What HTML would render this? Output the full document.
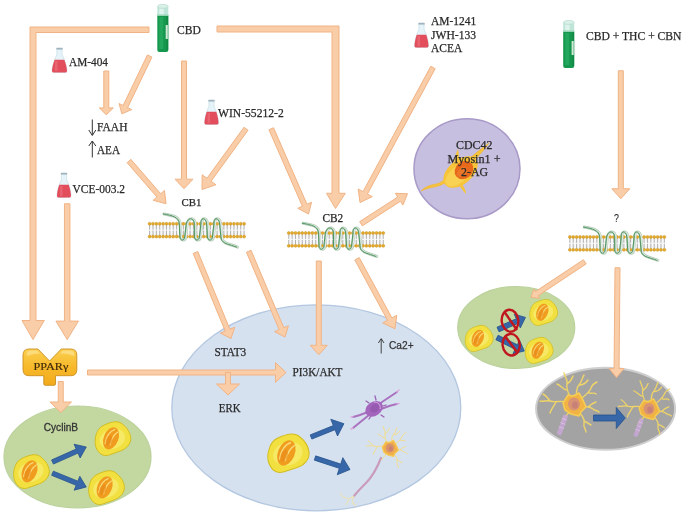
<!DOCTYPE html>
<html><head><meta charset="utf-8"><style>html,body{margin:0;padding:0;background:#fff;width:686px;height:516px;overflow:hidden}svg{display:block;will-change:transform}</style></head>
<body><svg width="686" height="516" viewBox="0 0 686 516"><rect width="686" height="516" fill="#fff"/>
<defs><linearGradient id="pg" x1="0" y1="0" x2="0" y2="1"><stop offset="0" stop-color="#fbcf50"/><stop offset="0.5" stop-color="#f7b92a"/><stop offset="1" stop-color="#f2aa1c"/></linearGradient></defs>
<ellipse cx="316.3" cy="407.8" rx="144.5" ry="103" fill="#d6e1f0" stroke="#b3c7e0" stroke-width="1.3"/>
<ellipse cx="77.5" cy="457" rx="73.5" ry="51" fill="#c3d7a1" stroke="#bcd29c" stroke-width="1.2"/>
<ellipse cx="516.25" cy="327.5" rx="58.5" ry="41" fill="#c3d7a1" stroke="#bcd29c" stroke-width="1.2"/>
<ellipse cx="605.6" cy="408.75" rx="69.5" ry="41" fill="#a3a3a3" stroke="#cfcfcf" stroke-width="2"/>
<ellipse cx="467" cy="168.75" rx="53" ry="50" fill="#c7bfdf" stroke="#a89ac8" stroke-width="1.5"/>
<g>
<path d="M449 180 C444 184 440 186 434 187 C429 188 425 189 421 191 C426 186 431 185 436 184 C441 183 444 180 447 176 Z" fill="#f6c43c" stroke="#f0b020" stroke-width="0.5"/>
<path d="M462 184 C464 187 466 190 466 194 C463 191 461 188 459 185 Z" fill="#f6c43c"/>
<path d="M470 158 C476 153 482 148 489 143 C485 149 480 154 474 161 Z" fill="#f6c43c" stroke="#f0b020" stroke-width="0.5"/>
<path d="M454 161 C455 157 456 153 458 149 C459 153 459 157 459 160 Z" fill="#f6c43c"/>
<ellipse cx="460.5" cy="172" rx="20" ry="12" fill="#f7c43a" transform="rotate(-40 460.5 172)"/>
<ellipse cx="458" cy="175" rx="15" ry="8" fill="#f9d860" opacity="0.7" transform="rotate(-40 458 175)"/>
<ellipse cx="464" cy="170" rx="10" ry="8.5" fill="#e8691c" transform="rotate(-40 464 170)"/>
<ellipse cx="462" cy="172" rx="6" ry="4" fill="#ee8030" opacity="0.6" transform="rotate(-40 462 172)"/>
</g>
<polygon points="149.00,27.00 30.00,27.00 30.00,320.50 22.00,320.50 33.00,339.60 44.30,320.50 36.00,320.50 36.00,32.50 149.00,32.50" fill="#F9CDA8" stroke="#F1B384" stroke-width="1"/>
<polygon points="217.00,26.00 339.00,26.00 339.00,193.30 345.30,193.30 335.50,208.50 326.50,193.30 332.00,193.30 332.00,32.00 217.00,32.00" fill="#F9CDA8" stroke="#F1B384" stroke-width="1"/>
<polygon points="103.80,71.00 103.80,107.90 99.30,107.90 106.30,114.90 113.30,107.90 108.80,107.90 108.80,71.00" fill="#F9CDA8" stroke="#F1B384" stroke-width="1" stroke-linejoin="miter"/>
<polygon points="147.45,54.92 123.11,105.51 119.06,103.56 121.90,113.80 131.68,109.62 127.62,107.67 151.95,57.08" fill="#F9CDA8" stroke="#F1B384" stroke-width="1" stroke-linejoin="miter"/>
<polygon points="181.50,61.00 181.50,179.20 175.00,179.20 184.00,188.70 193.00,179.20 186.50,179.20 186.50,61.00" fill="#F9CDA8" stroke="#F1B384" stroke-width="1" stroke-linejoin="miter"/>
<polygon points="127.11,162.64 156.91,197.02 153.13,200.30 166.00,203.70 164.46,190.48 160.69,193.75 130.89,159.36" fill="#F9CDA8" stroke="#F1B384" stroke-width="1" stroke-linejoin="miter"/>
<polygon points="243.98,127.28 207.01,178.31 202.15,174.80 202.00,189.50 215.92,184.77 211.06,181.25 248.02,130.22" fill="#F9CDA8" stroke="#F1B384" stroke-width="1" stroke-linejoin="miter"/>
<polygon points="268.96,129.75 302.41,206.30 297.82,208.30 308.50,214.00 311.57,202.29 306.99,204.29 273.54,127.75" fill="#F9CDA8" stroke="#F1B384" stroke-width="1" stroke-linejoin="miter"/>
<polygon points="430.80,66.31 363.03,191.63 358.20,189.02 360.00,202.50 372.27,196.63 367.43,194.01 435.20,68.69" fill="#F9CDA8" stroke="#F1B384" stroke-width="1" stroke-linejoin="miter"/>
<polygon points="362.36,225.85 400.45,201.27 402.89,205.05 407.50,193.75 395.30,193.29 397.74,197.07 359.64,221.65" fill="#F9CDA8" stroke="#F1B384" stroke-width="1" stroke-linejoin="miter"/>
<polygon points="618.30,70.75 618.30,188.75 611.80,188.75 620.80,198.75 629.80,188.75 623.30,188.75 623.30,70.75" fill="#F9CDA8" stroke="#F1B384" stroke-width="1" stroke-linejoin="miter"/>
<polygon points="64.45,203.75 64.45,321.10 55.95,321.10 67.20,339.60 78.45,321.10 69.95,321.10 69.95,203.75" fill="#F9CDA8" stroke="#F1B384" stroke-width="1" stroke-linejoin="miter"/>
<polygon points="58.25,381.50 58.25,402.00 50.00,402.00 60.75,412.50 71.50,402.00 63.25,402.00 63.25,381.50" fill="#F9CDA8" stroke="#F1B384" stroke-width="1" stroke-linejoin="miter"/>
<polygon points="87.50,375.00 275.50,375.00 275.50,382.25 286.00,372.50 275.50,362.75 275.50,370.00 87.50,370.00" fill="#F9CDA8" stroke="#F1B384" stroke-width="1" stroke-linejoin="miter"/>
<polygon points="225.50,372.50 225.50,384.00 216.50,384.00 228.00,395.00 239.50,384.00 230.50,384.00 230.50,372.50" fill="#F9CDA8" stroke="#F1B384" stroke-width="1" stroke-linejoin="miter"/>
<polygon points="193.19,253.45 225.26,331.13 220.40,333.14 231.00,338.50 234.73,327.22 229.88,329.23 197.81,251.55" fill="#F9CDA8" stroke="#F1B384" stroke-width="1" stroke-linejoin="miter"/>
<polygon points="246.45,252.22 279.19,329.68 274.59,331.63 285.00,337.00 288.40,325.79 283.80,327.74 251.05,250.28" fill="#F9CDA8" stroke="#F1B384" stroke-width="1" stroke-linejoin="miter"/>
<polygon points="316.30,261.00 316.30,345.30 310.30,345.30 318.80,354.80 327.30,345.30 321.30,345.30 321.30,261.00" fill="#F9CDA8" stroke="#F1B384" stroke-width="1" stroke-linejoin="miter"/>
<polygon points="354.80,259.94 387.55,320.28 382.72,322.90 395.00,328.75 396.78,315.27 391.95,317.89 359.20,257.56" fill="#F9CDA8" stroke="#F1B384" stroke-width="1" stroke-linejoin="miter"/>
<polygon points="583.42,259.72 535.45,291.55 533.79,289.05 531.00,297.50 539.87,298.21 538.21,295.71 586.18,263.88" fill="#F9CDA8" stroke="#F1B384" stroke-width="1" stroke-linejoin="miter"/>
<polygon points="615.00,267.78 614.08,368.48 609.08,368.43 616.50,377.50 624.08,368.57 619.08,368.52 620.00,267.82" fill="#F9CDA8" stroke="#F1B384" stroke-width="1" stroke-linejoin="miter"/>
<g>
<rect x="149.60" y="224.50" width="94.50" height="11" fill="#f8f8f8"/>
<path d="M149.60 225.00V229.60M149.60 230.60V235.20M152.97 225.00V229.60M152.97 230.60V235.20M156.35 225.00V229.60M156.35 230.60V235.20M159.72 225.00V229.60M159.72 230.60V235.20M163.10 225.00V229.60M163.10 230.60V235.20M166.47 225.00V229.60M166.47 230.60V235.20M169.85 225.00V229.60M169.85 230.60V235.20M173.22 225.00V229.60M173.22 230.60V235.20M176.60 225.00V229.60M176.60 230.60V235.20M179.97 225.00V229.60M179.97 230.60V235.20M183.35 225.00V229.60M183.35 230.60V235.20M186.72 225.00V229.60M186.72 230.60V235.20M190.10 225.00V229.60M190.10 230.60V235.20M193.47 225.00V229.60M193.47 230.60V235.20M196.85 225.00V229.60M196.85 230.60V235.20M200.22 225.00V229.60M200.22 230.60V235.20M203.60 225.00V229.60M203.60 230.60V235.20M206.97 225.00V229.60M206.97 230.60V235.20M210.35 225.00V229.60M210.35 230.60V235.20M213.72 225.00V229.60M213.72 230.60V235.20M217.10 225.00V229.60M217.10 230.60V235.20M220.47 225.00V229.60M220.47 230.60V235.20M223.85 225.00V229.60M223.85 230.60V235.20M227.22 225.00V229.60M227.22 230.60V235.20M230.60 225.00V229.60M230.60 230.60V235.20M233.97 225.00V229.60M233.97 230.60V235.20M237.35 225.00V229.60M237.35 230.60V235.20M240.72 225.00V229.60M240.72 230.60V235.20M244.10 225.00V229.60M244.10 230.60V235.20" stroke="#a8a8a8" stroke-width="0.9"/>
<g fill="#e6aa28" stroke="#c08a18" stroke-width="0.4"><circle cx="149.60" cy="223.70" r="1.5"/><circle cx="149.60" cy="236.60" r="1.5"/><circle cx="152.97" cy="223.70" r="1.5"/><circle cx="152.97" cy="236.60" r="1.5"/><circle cx="156.35" cy="223.70" r="1.5"/><circle cx="156.35" cy="236.60" r="1.5"/><circle cx="159.72" cy="223.70" r="1.5"/><circle cx="159.72" cy="236.60" r="1.5"/><circle cx="163.10" cy="223.70" r="1.5"/><circle cx="163.10" cy="236.60" r="1.5"/><circle cx="166.47" cy="223.70" r="1.5"/><circle cx="166.47" cy="236.60" r="1.5"/><circle cx="169.85" cy="223.70" r="1.5"/><circle cx="169.85" cy="236.60" r="1.5"/><circle cx="173.22" cy="223.70" r="1.5"/><circle cx="173.22" cy="236.60" r="1.5"/><circle cx="176.60" cy="223.70" r="1.5"/><circle cx="176.60" cy="236.60" r="1.5"/><circle cx="179.97" cy="223.70" r="1.5"/><circle cx="179.97" cy="236.60" r="1.5"/><circle cx="183.35" cy="223.70" r="1.5"/><circle cx="183.35" cy="236.60" r="1.5"/><circle cx="186.72" cy="223.70" r="1.5"/><circle cx="186.72" cy="236.60" r="1.5"/><circle cx="190.10" cy="223.70" r="1.5"/><circle cx="190.10" cy="236.60" r="1.5"/><circle cx="193.47" cy="223.70" r="1.5"/><circle cx="193.47" cy="236.60" r="1.5"/><circle cx="196.85" cy="223.70" r="1.5"/><circle cx="196.85" cy="236.60" r="1.5"/><circle cx="200.22" cy="223.70" r="1.5"/><circle cx="200.22" cy="236.60" r="1.5"/><circle cx="203.60" cy="223.70" r="1.5"/><circle cx="203.60" cy="236.60" r="1.5"/><circle cx="206.97" cy="223.70" r="1.5"/><circle cx="206.97" cy="236.60" r="1.5"/><circle cx="210.35" cy="223.70" r="1.5"/><circle cx="210.35" cy="236.60" r="1.5"/><circle cx="213.72" cy="223.70" r="1.5"/><circle cx="213.72" cy="236.60" r="1.5"/><circle cx="217.10" cy="223.70" r="1.5"/><circle cx="217.10" cy="236.60" r="1.5"/><circle cx="220.47" cy="223.70" r="1.5"/><circle cx="220.47" cy="236.60" r="1.5"/><circle cx="223.85" cy="223.70" r="1.5"/><circle cx="223.85" cy="236.60" r="1.5"/><circle cx="227.22" cy="223.70" r="1.5"/><circle cx="227.22" cy="236.60" r="1.5"/><circle cx="230.60" cy="223.70" r="1.5"/><circle cx="230.60" cy="236.60" r="1.5"/><circle cx="233.97" cy="223.70" r="1.5"/><circle cx="233.97" cy="236.60" r="1.5"/><circle cx="237.35" cy="223.70" r="1.5"/><circle cx="237.35" cy="236.60" r="1.5"/><circle cx="240.72" cy="223.70" r="1.5"/><circle cx="240.72" cy="236.60" r="1.5"/><circle cx="244.10" cy="223.70" r="1.5"/><circle cx="244.10" cy="236.60" r="1.5"/></g>
<path d="M164.1 213.9 C173.6 215.5 179.6 217.0 180.2 224.0 L180.8 237.0 C181.1 241.0 185.1 241.0 185.6 237.0 L187.1 224.0 C188.7 217.0 194.7 217.0 195.2 224.0 L195.3 237.0 C195.8 241.0 199.8 241.0 200.3 237.0 L201.8 224.0 C201.0 217.0 207.0 217.0 207.5 224.0 L208.3 237.0 C208.8 241.0 212.8 241.0 213.3 237.0 L214.8 224.0 C214.0 217.0 220.0 217.0 220.5 224.0 L222.0 239.0 C224.0 244.0 229.6 244.0 237.6 247.1" fill="none" stroke="#b2cab6" stroke-width="3" stroke-linecap="round" opacity="0.95"/>
<path d="M164.1 213.9 C173.6 215.5 179.6 217.0 180.2 224.0 L180.8 237.0 C181.1 241.0 185.1 241.0 185.6 237.0 L187.1 224.0 C188.7 217.0 194.7 217.0 195.2 224.0 L195.3 237.0 C195.8 241.0 199.8 241.0 200.3 237.0 L201.8 224.0 C201.0 217.0 207.0 217.0 207.5 224.0 L208.3 237.0 C208.8 241.0 212.8 241.0 213.3 237.0 L214.8 224.0 C214.0 217.0 220.0 217.0 220.5 224.0 L222.0 239.0 C224.0 244.0 229.6 244.0 237.6 247.1" fill="none" stroke="#e4eee6" stroke-width="1" stroke-linecap="round" transform="translate(0.6,0)"/>
<path d="M164.1 213.9 C173.6 215.5 179.6 217.0 180.2 224.0 L180.8 237.0 C181.1 241.0 185.1 241.0 185.6 237.0 L187.1 224.0 C188.7 217.0 194.7 217.0 195.2 224.0 L195.3 237.0 C195.8 241.0 199.8 241.0 200.3 237.0 L201.8 224.0 C201.0 217.0 207.0 217.0 207.5 224.0 L208.3 237.0 C208.8 241.0 212.8 241.0 213.3 237.0 L214.8 224.0 C214.0 217.0 220.0 217.0 220.5 224.0 L222.0 239.0 C224.0 244.0 229.6 244.0 237.6 247.1" fill="none" stroke="#4f9660" stroke-width="1" stroke-linecap="round" transform="translate(-0.9,0)"/>
</g>
<g>
<rect x="288.75" y="233.75" width="94.50" height="11" fill="#f8f8f8"/>
<path d="M288.75 234.25V238.85M288.75 239.85V244.45M292.12 234.25V238.85M292.12 239.85V244.45M295.50 234.25V238.85M295.50 239.85V244.45M298.88 234.25V238.85M298.88 239.85V244.45M302.25 234.25V238.85M302.25 239.85V244.45M305.62 234.25V238.85M305.62 239.85V244.45M309.00 234.25V238.85M309.00 239.85V244.45M312.38 234.25V238.85M312.38 239.85V244.45M315.75 234.25V238.85M315.75 239.85V244.45M319.12 234.25V238.85M319.12 239.85V244.45M322.50 234.25V238.85M322.50 239.85V244.45M325.88 234.25V238.85M325.88 239.85V244.45M329.25 234.25V238.85M329.25 239.85V244.45M332.62 234.25V238.85M332.62 239.85V244.45M336.00 234.25V238.85M336.00 239.85V244.45M339.38 234.25V238.85M339.38 239.85V244.45M342.75 234.25V238.85M342.75 239.85V244.45M346.12 234.25V238.85M346.12 239.85V244.45M349.50 234.25V238.85M349.50 239.85V244.45M352.88 234.25V238.85M352.88 239.85V244.45M356.25 234.25V238.85M356.25 239.85V244.45M359.62 234.25V238.85M359.62 239.85V244.45M363.00 234.25V238.85M363.00 239.85V244.45M366.38 234.25V238.85M366.38 239.85V244.45M369.75 234.25V238.85M369.75 239.85V244.45M373.12 234.25V238.85M373.12 239.85V244.45M376.50 234.25V238.85M376.50 239.85V244.45M379.88 234.25V238.85M379.88 239.85V244.45M383.25 234.25V238.85M383.25 239.85V244.45" stroke="#a8a8a8" stroke-width="0.9"/>
<g fill="#e6aa28" stroke="#c08a18" stroke-width="0.4"><circle cx="288.75" cy="232.95" r="1.5"/><circle cx="288.75" cy="245.85" r="1.5"/><circle cx="292.12" cy="232.95" r="1.5"/><circle cx="292.12" cy="245.85" r="1.5"/><circle cx="295.50" cy="232.95" r="1.5"/><circle cx="295.50" cy="245.85" r="1.5"/><circle cx="298.88" cy="232.95" r="1.5"/><circle cx="298.88" cy="245.85" r="1.5"/><circle cx="302.25" cy="232.95" r="1.5"/><circle cx="302.25" cy="245.85" r="1.5"/><circle cx="305.62" cy="232.95" r="1.5"/><circle cx="305.62" cy="245.85" r="1.5"/><circle cx="309.00" cy="232.95" r="1.5"/><circle cx="309.00" cy="245.85" r="1.5"/><circle cx="312.38" cy="232.95" r="1.5"/><circle cx="312.38" cy="245.85" r="1.5"/><circle cx="315.75" cy="232.95" r="1.5"/><circle cx="315.75" cy="245.85" r="1.5"/><circle cx="319.12" cy="232.95" r="1.5"/><circle cx="319.12" cy="245.85" r="1.5"/><circle cx="322.50" cy="232.95" r="1.5"/><circle cx="322.50" cy="245.85" r="1.5"/><circle cx="325.88" cy="232.95" r="1.5"/><circle cx="325.88" cy="245.85" r="1.5"/><circle cx="329.25" cy="232.95" r="1.5"/><circle cx="329.25" cy="245.85" r="1.5"/><circle cx="332.62" cy="232.95" r="1.5"/><circle cx="332.62" cy="245.85" r="1.5"/><circle cx="336.00" cy="232.95" r="1.5"/><circle cx="336.00" cy="245.85" r="1.5"/><circle cx="339.38" cy="232.95" r="1.5"/><circle cx="339.38" cy="245.85" r="1.5"/><circle cx="342.75" cy="232.95" r="1.5"/><circle cx="342.75" cy="245.85" r="1.5"/><circle cx="346.12" cy="232.95" r="1.5"/><circle cx="346.12" cy="245.85" r="1.5"/><circle cx="349.50" cy="232.95" r="1.5"/><circle cx="349.50" cy="245.85" r="1.5"/><circle cx="352.88" cy="232.95" r="1.5"/><circle cx="352.88" cy="245.85" r="1.5"/><circle cx="356.25" cy="232.95" r="1.5"/><circle cx="356.25" cy="245.85" r="1.5"/><circle cx="359.62" cy="232.95" r="1.5"/><circle cx="359.62" cy="245.85" r="1.5"/><circle cx="363.00" cy="232.95" r="1.5"/><circle cx="363.00" cy="245.85" r="1.5"/><circle cx="366.38" cy="232.95" r="1.5"/><circle cx="366.38" cy="245.85" r="1.5"/><circle cx="369.75" cy="232.95" r="1.5"/><circle cx="369.75" cy="245.85" r="1.5"/><circle cx="373.12" cy="232.95" r="1.5"/><circle cx="373.12" cy="245.85" r="1.5"/><circle cx="376.50" cy="232.95" r="1.5"/><circle cx="376.50" cy="245.85" r="1.5"/><circle cx="379.88" cy="232.95" r="1.5"/><circle cx="379.88" cy="245.85" r="1.5"/><circle cx="383.25" cy="232.95" r="1.5"/><circle cx="383.25" cy="245.85" r="1.5"/></g>
<path d="M303.2 223.2 C312.8 224.8 318.8 226.2 319.4 233.2 L319.9 246.2 C320.2 250.2 324.2 250.2 324.8 246.2 L326.2 233.2 C327.9 226.2 333.9 226.2 334.4 233.2 L334.4 246.2 C334.9 250.2 338.9 250.2 339.4 246.2 L340.9 233.2 C340.1 226.2 346.1 226.2 346.6 233.2 L347.4 246.2 C347.9 250.2 351.9 250.2 352.4 246.2 L353.9 233.2 C353.1 226.2 359.1 226.2 359.6 233.2 L361.1 248.2 C363.1 253.2 368.8 253.2 376.8 256.4" fill="none" stroke="#b2cab6" stroke-width="3" stroke-linecap="round" opacity="0.95"/>
<path d="M303.2 223.2 C312.8 224.8 318.8 226.2 319.4 233.2 L319.9 246.2 C320.2 250.2 324.2 250.2 324.8 246.2 L326.2 233.2 C327.9 226.2 333.9 226.2 334.4 233.2 L334.4 246.2 C334.9 250.2 338.9 250.2 339.4 246.2 L340.9 233.2 C340.1 226.2 346.1 226.2 346.6 233.2 L347.4 246.2 C347.9 250.2 351.9 250.2 352.4 246.2 L353.9 233.2 C353.1 226.2 359.1 226.2 359.6 233.2 L361.1 248.2 C363.1 253.2 368.8 253.2 376.8 256.4" fill="none" stroke="#e4eee6" stroke-width="1" stroke-linecap="round" transform="translate(0.6,0)"/>
<path d="M303.2 223.2 C312.8 224.8 318.8 226.2 319.4 233.2 L319.9 246.2 C320.2 250.2 324.2 250.2 324.8 246.2 L326.2 233.2 C327.9 226.2 333.9 226.2 334.4 233.2 L334.4 246.2 C334.9 250.2 338.9 250.2 339.4 246.2 L340.9 233.2 C340.1 226.2 346.1 226.2 346.6 233.2 L347.4 246.2 C347.9 250.2 351.9 250.2 352.4 246.2 L353.9 233.2 C353.1 226.2 359.1 226.2 359.6 233.2 L361.1 248.2 C363.1 253.2 368.8 253.2 376.8 256.4" fill="none" stroke="#4f9660" stroke-width="1" stroke-linecap="round" transform="translate(-0.9,0)"/>
</g>
<g>
<rect x="569.85" y="237.70" width="94.50" height="11" fill="#f8f8f8"/>
<path d="M569.85 238.20V242.80M569.85 243.80V248.40M573.23 238.20V242.80M573.23 243.80V248.40M576.60 238.20V242.80M576.60 243.80V248.40M579.98 238.20V242.80M579.98 243.80V248.40M583.35 238.20V242.80M583.35 243.80V248.40M586.73 238.20V242.80M586.73 243.80V248.40M590.10 238.20V242.80M590.10 243.80V248.40M593.48 238.20V242.80M593.48 243.80V248.40M596.85 238.20V242.80M596.85 243.80V248.40M600.23 238.20V242.80M600.23 243.80V248.40M603.60 238.20V242.80M603.60 243.80V248.40M606.98 238.20V242.80M606.98 243.80V248.40M610.35 238.20V242.80M610.35 243.80V248.40M613.73 238.20V242.80M613.73 243.80V248.40M617.10 238.20V242.80M617.10 243.80V248.40M620.48 238.20V242.80M620.48 243.80V248.40M623.85 238.20V242.80M623.85 243.80V248.40M627.23 238.20V242.80M627.23 243.80V248.40M630.60 238.20V242.80M630.60 243.80V248.40M633.98 238.20V242.80M633.98 243.80V248.40M637.35 238.20V242.80M637.35 243.80V248.40M640.73 238.20V242.80M640.73 243.80V248.40M644.10 238.20V242.80M644.10 243.80V248.40M647.48 238.20V242.80M647.48 243.80V248.40M650.85 238.20V242.80M650.85 243.80V248.40M654.23 238.20V242.80M654.23 243.80V248.40M657.60 238.20V242.80M657.60 243.80V248.40M660.98 238.20V242.80M660.98 243.80V248.40M664.35 238.20V242.80M664.35 243.80V248.40" stroke="#a8a8a8" stroke-width="0.9"/>
<g fill="#e6aa28" stroke="#c08a18" stroke-width="0.4"><circle cx="569.85" cy="236.90" r="1.5"/><circle cx="569.85" cy="249.80" r="1.5"/><circle cx="573.23" cy="236.90" r="1.5"/><circle cx="573.23" cy="249.80" r="1.5"/><circle cx="576.60" cy="236.90" r="1.5"/><circle cx="576.60" cy="249.80" r="1.5"/><circle cx="579.98" cy="236.90" r="1.5"/><circle cx="579.98" cy="249.80" r="1.5"/><circle cx="583.35" cy="236.90" r="1.5"/><circle cx="583.35" cy="249.80" r="1.5"/><circle cx="586.73" cy="236.90" r="1.5"/><circle cx="586.73" cy="249.80" r="1.5"/><circle cx="590.10" cy="236.90" r="1.5"/><circle cx="590.10" cy="249.80" r="1.5"/><circle cx="593.48" cy="236.90" r="1.5"/><circle cx="593.48" cy="249.80" r="1.5"/><circle cx="596.85" cy="236.90" r="1.5"/><circle cx="596.85" cy="249.80" r="1.5"/><circle cx="600.23" cy="236.90" r="1.5"/><circle cx="600.23" cy="249.80" r="1.5"/><circle cx="603.60" cy="236.90" r="1.5"/><circle cx="603.60" cy="249.80" r="1.5"/><circle cx="606.98" cy="236.90" r="1.5"/><circle cx="606.98" cy="249.80" r="1.5"/><circle cx="610.35" cy="236.90" r="1.5"/><circle cx="610.35" cy="249.80" r="1.5"/><circle cx="613.73" cy="236.90" r="1.5"/><circle cx="613.73" cy="249.80" r="1.5"/><circle cx="617.10" cy="236.90" r="1.5"/><circle cx="617.10" cy="249.80" r="1.5"/><circle cx="620.48" cy="236.90" r="1.5"/><circle cx="620.48" cy="249.80" r="1.5"/><circle cx="623.85" cy="236.90" r="1.5"/><circle cx="623.85" cy="249.80" r="1.5"/><circle cx="627.23" cy="236.90" r="1.5"/><circle cx="627.23" cy="249.80" r="1.5"/><circle cx="630.60" cy="236.90" r="1.5"/><circle cx="630.60" cy="249.80" r="1.5"/><circle cx="633.98" cy="236.90" r="1.5"/><circle cx="633.98" cy="249.80" r="1.5"/><circle cx="637.35" cy="236.90" r="1.5"/><circle cx="637.35" cy="249.80" r="1.5"/><circle cx="640.73" cy="236.90" r="1.5"/><circle cx="640.73" cy="249.80" r="1.5"/><circle cx="644.10" cy="236.90" r="1.5"/><circle cx="644.10" cy="249.80" r="1.5"/><circle cx="647.48" cy="236.90" r="1.5"/><circle cx="647.48" cy="249.80" r="1.5"/><circle cx="650.85" cy="236.90" r="1.5"/><circle cx="650.85" cy="249.80" r="1.5"/><circle cx="654.23" cy="236.90" r="1.5"/><circle cx="654.23" cy="249.80" r="1.5"/><circle cx="657.60" cy="236.90" r="1.5"/><circle cx="657.60" cy="249.80" r="1.5"/><circle cx="660.98" cy="236.90" r="1.5"/><circle cx="660.98" cy="249.80" r="1.5"/><circle cx="664.35" cy="236.90" r="1.5"/><circle cx="664.35" cy="249.80" r="1.5"/></g>
<path d="M584.4 227.1 C593.9 228.7 599.9 230.2 600.5 237.2 L601.1 250.2 C601.4 254.2 605.4 254.2 605.9 250.2 L607.4 237.2 C609.0 230.2 615.0 230.2 615.5 237.2 L615.6 250.2 C616.1 254.2 620.1 254.2 620.6 250.2 L622.1 237.2 C621.2 230.2 627.2 230.2 627.8 237.2 L628.6 250.2 C629.1 254.2 633.1 254.2 633.6 250.2 L635.1 237.2 C634.2 230.2 640.2 230.2 640.8 237.2 L642.2 252.2 C644.2 257.2 649.9 257.2 657.9 260.3" fill="none" stroke="#b2cab6" stroke-width="3" stroke-linecap="round" opacity="0.95"/>
<path d="M584.4 227.1 C593.9 228.7 599.9 230.2 600.5 237.2 L601.1 250.2 C601.4 254.2 605.4 254.2 605.9 250.2 L607.4 237.2 C609.0 230.2 615.0 230.2 615.5 237.2 L615.6 250.2 C616.1 254.2 620.1 254.2 620.6 250.2 L622.1 237.2 C621.2 230.2 627.2 230.2 627.8 237.2 L628.6 250.2 C629.1 254.2 633.1 254.2 633.6 250.2 L635.1 237.2 C634.2 230.2 640.2 230.2 640.8 237.2 L642.2 252.2 C644.2 257.2 649.9 257.2 657.9 260.3" fill="none" stroke="#e4eee6" stroke-width="1" stroke-linecap="round" transform="translate(0.6,0)"/>
<path d="M584.4 227.1 C593.9 228.7 599.9 230.2 600.5 237.2 L601.1 250.2 C601.4 254.2 605.4 254.2 605.9 250.2 L607.4 237.2 C609.0 230.2 615.0 230.2 615.5 237.2 L615.6 250.2 C616.1 254.2 620.1 254.2 620.6 250.2 L622.1 237.2 C621.2 230.2 627.2 230.2 627.8 237.2 L628.6 250.2 C629.1 254.2 633.1 254.2 633.6 250.2 L635.1 237.2 C634.2 230.2 640.2 230.2 640.8 237.2 L642.2 252.2 C644.2 257.2 649.9 257.2 657.9 260.3" fill="none" stroke="#4f9660" stroke-width="1" stroke-linecap="round" transform="translate(-0.9,0)"/>
</g>
<g>
<path d="M157.30 15.00 V50.00 Q157.30 52.00 159.30 52.00 H166.30 Q168.30 52.00 168.30 50.00 V15.00 Z" fill="#16974e"/>
<rect x="159.30" y="17.00" width="4.00" height="32.00" fill="#2aae62" opacity="0.7"/>
<rect x="166.50" y="16.00" width="1.80" height="34.00" fill="#0f7f3e" opacity="0.6"/>
<rect x="165.70" y="25.00" width="2.10" height="14.00" fill="#cfe9d6"/>
<rect x="157.30" y="6.00" width="11.00" height="10.00" fill="#bfe5d8"/>
<rect x="159.30" y="8.00" width="4.50" height="7.00" fill="#e6f6f0" opacity="0.8"/>
<ellipse cx="162.80" cy="6.40" rx="5.30" ry="2" fill="#daf1e8" stroke="#a8d4c4" stroke-width="0.6"/>
<rect x="157.30" y="14.50" width="11.00" height="1.4" fill="#8fd2b0"/>
</g>
<g>
<path d="M563.20 31.00 V66.00 Q563.20 68.00 565.20 68.00 H572.20 Q574.20 68.00 574.20 66.00 V31.00 Z" fill="#16974e"/>
<rect x="565.20" y="33.00" width="4.00" height="32.00" fill="#2aae62" opacity="0.7"/>
<rect x="572.40" y="32.00" width="1.80" height="34.00" fill="#0f7f3e" opacity="0.6"/>
<rect x="571.60" y="41.00" width="2.10" height="14.00" fill="#cfe9d6"/>
<rect x="563.20" y="22.00" width="11.00" height="10.00" fill="#bfe5d8"/>
<rect x="565.20" y="24.00" width="4.50" height="7.00" fill="#e6f6f0" opacity="0.8"/>
<ellipse cx="568.70" cy="22.40" rx="5.30" ry="2" fill="#daf1e8" stroke="#a8d4c4" stroke-width="0.6"/>
<rect x="563.20" y="30.50" width="11.00" height="1.4" fill="#8fd2b0"/>
</g>
<path d="M56.90 49.00 L56.90 54.50 C53.90 60.50 52.00 67.50 52.00 71.00 Q52.00 72.50 54.00 72.50 L65.00 72.50 Q67.00 72.50 67.00 71.00 C67.00 67.50 65.10 60.50 62.10 54.50 L62.10 49.00 Z" fill="#e6f4fa" stroke="#c0d8e0" stroke-width="0.6"/>
<clipPath id="fc567"><rect x="51.00" y="59.80" width="17.00" height="25.00"/></clipPath>
<path d="M56.90 49.00 L56.90 54.50 C53.90 60.50 52.00 67.50 52.00 71.00 Q52.00 72.50 54.00 72.50 L65.00 72.50 Q67.00 72.50 67.00 71.00 C67.00 67.50 65.10 60.50 62.10 54.50 L62.10 49.00 Z" fill="#e34e5c" clip-path="url(#fc567)"/>
<rect x="55.00" y="61.00" width="2.50" height="10.00" fill="#ee7a84" opacity="0.5"/>
<rect x="56.30" y="47.80" width="6.40" height="1.8" rx="0.5" fill="#9fb4be"/>
<path d="M208.90 101.00 L208.90 106.50 C205.90 112.50 204.50 119.50 204.50 123.00 Q204.50 124.50 206.50 124.50 L216.50 124.50 Q218.50 124.50 218.50 123.00 C218.50 119.50 217.10 112.50 214.10 106.50 L214.10 101.00 Z" fill="#e6f4fa" stroke="#c0d8e0" stroke-width="0.6"/>
<clipPath id="fc2144"><rect x="203.50" y="111.80" width="16.00" height="25.00"/></clipPath>
<path d="M208.90 101.00 L208.90 106.50 C205.90 112.50 204.50 119.50 204.50 123.00 Q204.50 124.50 206.50 124.50 L216.50 124.50 Q218.50 124.50 218.50 123.00 C218.50 119.50 217.10 112.50 214.10 106.50 L214.10 101.00 Z" fill="#e34e5c" clip-path="url(#fc2144)"/>
<rect x="207.50" y="113.00" width="2.50" height="10.00" fill="#ee7a84" opacity="0.5"/>
<rect x="208.30" y="99.80" width="6.40" height="1.8" rx="0.5" fill="#9fb4be"/>
<path d="M418.90 24.00 L418.90 29.50 C415.90 35.50 414.50 42.50 414.50 46.00 Q414.50 47.50 416.50 47.50 L426.50 47.50 Q428.50 47.50 428.50 46.00 C428.50 42.50 427.10 35.50 424.10 29.50 L424.10 24.00 Z" fill="#e6f4fa" stroke="#c0d8e0" stroke-width="0.6"/>
<clipPath id="fc4167"><rect x="413.50" y="34.80" width="16.00" height="25.00"/></clipPath>
<path d="M418.90 24.00 L418.90 29.50 C415.90 35.50 414.50 42.50 414.50 46.00 Q414.50 47.50 416.50 47.50 L426.50 47.50 Q428.50 47.50 428.50 46.00 C428.50 42.50 427.10 35.50 424.10 29.50 L424.10 24.00 Z" fill="#e34e5c" clip-path="url(#fc4167)"/>
<rect x="417.50" y="36.00" width="2.50" height="10.00" fill="#ee7a84" opacity="0.5"/>
<rect x="418.30" y="22.80" width="6.40" height="1.8" rx="0.5" fill="#9fb4be"/>
<path d="M61.40 174.00 L61.40 179.50 C58.40 185.50 57.00 192.50 57.00 196.00 Q57.00 197.50 59.00 197.50 L69.00 197.50 Q71.00 197.50 71.00 196.00 C71.00 192.50 69.60 185.50 66.60 179.50 L66.60 174.00 Z" fill="#e6f4fa" stroke="#c0d8e0" stroke-width="0.6"/>
<clipPath id="fc742"><rect x="56.00" y="184.80" width="16.00" height="25.00"/></clipPath>
<path d="M61.40 174.00 L61.40 179.50 C58.40 185.50 57.00 192.50 57.00 196.00 Q57.00 197.50 59.00 197.50 L69.00 197.50 Q71.00 197.50 71.00 196.00 C71.00 192.50 69.60 185.50 66.60 179.50 L66.60 174.00 Z" fill="#e34e5c" clip-path="url(#fc742)"/>
<rect x="60.00" y="186.00" width="2.50" height="10.00" fill="#ee7a84" opacity="0.5"/>
<rect x="60.80" y="172.80" width="6.40" height="1.8" rx="0.5" fill="#9fb4be"/>
<text x="177" y="34" font-family='"Liberation Serif", serif' font-size="12" fill="#2a2a2a" font-weight="normal" textLength="23.75" lengthAdjust="spacingAndGlyphs" stroke="#2a2a2a" stroke-width="0.25">CBD</text>
<text x="69" y="65.5" font-family='"Liberation Serif", serif' font-size="12.5" fill="#2a2a2a" font-weight="normal" textLength="39" lengthAdjust="spacingAndGlyphs" stroke="#2a2a2a" stroke-width="0.25">AM-404</text>
<text x="218" y="117" font-family='"Liberation Serif", serif' font-size="12.5" fill="#2a2a2a" font-weight="normal" textLength="65.75" lengthAdjust="spacingAndGlyphs" stroke="#2a2a2a" stroke-width="0.25">WIN-55212-2</text>
<text x="431" y="25.3" font-family='"Liberation Serif", serif' font-size="12.5" fill="#2a2a2a" font-weight="normal" textLength="45.3" lengthAdjust="spacingAndGlyphs" stroke="#2a2a2a" stroke-width="0.25">AM-1241</text>
<text x="431" y="38.9" font-family='"Liberation Serif", serif' font-size="12.5" fill="#2a2a2a" font-weight="normal" textLength="45" lengthAdjust="spacingAndGlyphs" stroke="#2a2a2a" stroke-width="0.25">JWH-133</text>
<text x="431" y="52.3" font-family='"Liberation Serif", serif' font-size="12.5" fill="#2a2a2a" font-weight="normal" textLength="31.2" lengthAdjust="spacingAndGlyphs" stroke="#2a2a2a" stroke-width="0.25">ACEA</text>
<text x="586" y="40" font-family='"Liberation Serif", serif' font-size="12" fill="#2a2a2a" font-weight="normal" textLength="95.5" lengthAdjust="spacingAndGlyphs" stroke="#2a2a2a" stroke-width="0.25">CBD + THC + CBN</text>
<text x="97" y="130.75" font-family='"Liberation Serif", serif' font-size="12.5" fill="#2a2a2a" font-weight="normal" textLength="30.5" lengthAdjust="spacingAndGlyphs" stroke="#2a2a2a" stroke-width="0.25">FAAH</text>
<text x="97" y="154.25" font-family='"Liberation Serif", serif' font-size="12.5" fill="#2a2a2a" font-weight="normal" textLength="23" lengthAdjust="spacingAndGlyphs" stroke="#2a2a2a" stroke-width="0.25">AEA</text>
<text x="72.5" y="192.5" font-family='"Liberation Serif", serif' font-size="12.5" fill="#2a2a2a" font-weight="normal" textLength="52.5" lengthAdjust="spacingAndGlyphs" stroke="#2a2a2a" stroke-width="0.25">VCE-003.2</text>
<text x="181.6" y="206.4" font-family='"Liberation Serif", serif' font-size="11" fill="#2a2a2a" font-weight="normal" textLength="19.9" lengthAdjust="spacingAndGlyphs" stroke="#2a2a2a" stroke-width="0.25">CB1</text>
<text x="322.5" y="221.75" font-family='"Liberation Serif", serif' font-size="11.5" fill="#2a2a2a" font-weight="normal" textLength="20.75" lengthAdjust="spacingAndGlyphs" stroke="#2a2a2a" stroke-width="0.25">CB2</text>
<text x="456" y="148.75" font-family='"Liberation Serif", serif' font-size="12" fill="#2a2a2a" font-weight="normal" textLength="36.5" lengthAdjust="spacingAndGlyphs" stroke="#2a2a2a" stroke-width="0.25">CDC42</text>
<text x="447.5" y="162.5" font-family='"Liberation Serif", serif' font-size="12" fill="#2a2a2a" font-weight="normal" textLength="53" lengthAdjust="spacingAndGlyphs" stroke="#2a2a2a" stroke-width="0.25">Myosin1 +</text>
<text x="461" y="175.5" font-family='"Liberation Serif", serif' font-size="12" fill="#2a2a2a" font-weight="normal" textLength="27" lengthAdjust="spacingAndGlyphs" stroke="#2a2a2a" stroke-width="0.25">2-AG</text>
<text x="614" y="221.75" font-family='"Liberation Sans", sans-serif' font-size="11" fill="#2a2a2a" font-weight="normal" textLength="4.9" lengthAdjust="spacingAndGlyphs" stroke="#2a2a2a" stroke-width="0.1">?</text>
<text x="214.5" y="355.5" font-family='"Liberation Serif", serif' font-size="11.5" fill="#2a2a2a" font-weight="normal" textLength="31.75" lengthAdjust="spacingAndGlyphs" stroke="#2a2a2a" stroke-width="0.25">STAT3</text>
<text x="292.6" y="376.35" font-family='"Liberation Serif", serif' font-size="11.5" fill="#2a2a2a" font-weight="normal" textLength="49.85" lengthAdjust="spacingAndGlyphs" stroke="#2a2a2a" stroke-width="0.25">PI3K/AKT</text>
<text x="218.75" y="411.75" font-family='"Liberation Serif", serif' font-size="11.5" fill="#2a2a2a" font-weight="normal" textLength="21.75" lengthAdjust="spacingAndGlyphs" stroke="#2a2a2a" stroke-width="0.25">ERK</text>
<text x="389" y="348.7" font-family='"Liberation Sans", sans-serif' font-size="10.8" fill="#333" font-weight="normal" textLength="24.6" lengthAdjust="spacingAndGlyphs" stroke="#333" stroke-width="0.25">Ca2+</text>
<path d="M92.3 119.5 V135 M88.8 130 L92.3 135.5 L95.8 130" stroke="#333" stroke-width="1" fill="none"/>
<path d="M92.3 141 V157.5 M88.8 146 L92.3 141 L95.8 146" stroke="#333" stroke-width="1" fill="none"/>
<path d="M381.2 339 V353.5 M378.4 343 L381.2 338.6 L384 343" stroke="#333" stroke-width="0.9" fill="none"/>
<path d="M29 349 L37.9 349 L49.6 361 L61.3 349 L70.8 349 Q76.8 349 76.8 355 L76.8 369.7 Q76.8 375.7 70.8 375.7 L55.5 375.7 L55.5 384 Q55.5 385.3 54 385.3 L45.3 385.3 Q43.8 385.3 43.8 384 L43.8 375.7 L29 375.7 Q23 375.7 23 369.7 L23 355 Q23 349 29 349 Z" fill="url(#pg)" stroke="#c99020" stroke-width="0.9"/>
<path d="M27 352 Q28 350.5 31 350.5 L37 350.5 L40 353.5 Q33 353 27 356 Z" fill="#fde08a" opacity="0.8"/>
<path d="M60 353.5 L63 350.5 L70 350.5 Q73 350.5 74 352.5 L74.5 356 Q68 353 60 353.5 Z" fill="#fde08a" opacity="0.8"/>
<text x="33.6" y="369.8" font-family='"Liberation Serif", serif' font-size="10.5" fill="#3e2a0a" font-weight="normal" textLength="34.7" lengthAdjust="spacingAndGlyphs" stroke="#3e2a0a" stroke-width="0.15">PPARγ</text>
<text x="43.75" y="430.75" font-family='"Liberation Sans", sans-serif' font-size="10.5" fill="#333" font-weight="normal" textLength="34.25" lengthAdjust="spacingAndGlyphs" stroke="#333" stroke-width="0.3">CyclinB</text>
<g transform="translate(30.50,471.00) rotate(-20) scale(1.0)">
<path d="M-5 -14.5 C2 -15.5 10 -15.5 13.5 -11 C16.5 -7 19 -1 18 5 C17 11 11 15 4 15 L-8 15 C-13 15 -17 12 -18 6 C-19 0 -16 -6 -13 -9.5 C-11 -12 -8 -14 -5 -14.5 Z" fill="#f2e040" stroke="#d2bd20" stroke-width="0.9"/>
<ellipse cx="0" cy="1" rx="13" ry="10" fill="#f8ef80" opacity="0.6"/>
<g transform="translate(-1,0) rotate(42)"><ellipse cx="0" cy="0" rx="7.3" ry="11.5" fill="#f09c1e"/>
<path d="M-3.5 7 C-5.5 0 -3.5 -7 0 -9.5 M1.5 6.5 C0.5 0 2 -6 4 -8.5" stroke="#fbd878" stroke-width="1.3" fill="none" stroke-linecap="round"/>
<ellipse cx="-1" cy="3" rx="3" ry="5.5" fill="#e8881a" opacity="0.55"/></g>
</g>
<g transform="translate(112.00,438.00) rotate(-20) scale(1.0)">
<path d="M-5 -14.5 C2 -15.5 10 -15.5 13.5 -11 C16.5 -7 19 -1 18 5 C17 11 11 15 4 15 L-8 15 C-13 15 -17 12 -18 6 C-19 0 -16 -6 -13 -9.5 C-11 -12 -8 -14 -5 -14.5 Z" fill="#f2e040" stroke="#d2bd20" stroke-width="0.9"/>
<ellipse cx="0" cy="1" rx="13" ry="10" fill="#f8ef80" opacity="0.6"/>
<g transform="translate(-1,0) rotate(42)"><ellipse cx="0" cy="0" rx="7.3" ry="11.5" fill="#f09c1e"/>
<path d="M-3.5 7 C-5.5 0 -3.5 -7 0 -9.5 M1.5 6.5 C0.5 0 2 -6 4 -8.5" stroke="#fbd878" stroke-width="1.3" fill="none" stroke-linecap="round"/>
<ellipse cx="-1" cy="3" rx="3" ry="5.5" fill="#e8881a" opacity="0.55"/></g>
</g>
<g transform="translate(105.60,487.00) rotate(-20) scale(1.0)">
<path d="M-5 -14.5 C2 -15.5 10 -15.5 13.5 -11 C16.5 -7 19 -1 18 5 C17 11 11 15 4 15 L-8 15 C-13 15 -17 12 -18 6 C-19 0 -16 -6 -13 -9.5 C-11 -12 -8 -14 -5 -14.5 Z" fill="#f2e040" stroke="#d2bd20" stroke-width="0.9"/>
<ellipse cx="0" cy="1" rx="13" ry="10" fill="#f8ef80" opacity="0.6"/>
<g transform="translate(-1,0) rotate(42)"><ellipse cx="0" cy="0" rx="7.3" ry="11.5" fill="#f09c1e"/>
<path d="M-3.5 7 C-5.5 0 -3.5 -7 0 -9.5 M1.5 6.5 C0.5 0 2 -6 4 -8.5" stroke="#fbd878" stroke-width="1.3" fill="none" stroke-linecap="round"/>
<ellipse cx="-1" cy="3" rx="3" ry="5.5" fill="#e8881a" opacity="0.55"/></g>
</g>
<polygon points="53.41,464.06 78.03,453.12 80.16,457.91 86.25,447.00 74.07,444.21 76.20,449.01 51.59,459.94" fill="#3767a8" stroke="#24528c" stroke-width="0.8" stroke-linejoin="miter"/>
<polygon points="51.65,475.33 76.14,485.31 74.16,490.17 86.25,487.00 79.82,476.28 77.84,481.14 53.35,471.17" fill="#3767a8" stroke="#24528c" stroke-width="0.8" stroke-linejoin="miter"/>
<g transform="translate(287.50,452.60) rotate(-18) scale(1.15)">
<path d="M-5 -14.5 C2 -15.5 10 -15.5 13.5 -11 C16.5 -7 19 -1 18 5 C17 11 11 15 4 15 L-8 15 C-13 15 -17 12 -18 6 C-19 0 -16 -6 -13 -9.5 C-11 -12 -8 -14 -5 -14.5 Z" fill="#f2e040" stroke="#d2bd20" stroke-width="0.9"/>
<ellipse cx="0" cy="1" rx="13" ry="10" fill="#f8ef80" opacity="0.6"/>
<g transform="translate(-1,0) rotate(40)"><ellipse cx="0" cy="0" rx="7.3" ry="11.5" fill="#f09c1e"/>
<path d="M-3.5 7 C-5.5 0 -3.5 -7 0 -9.5 M1.5 6.5 C0.5 0 2 -6 4 -8.5" stroke="#fbd878" stroke-width="1.3" fill="none" stroke-linecap="round"/>
<ellipse cx="-1" cy="3" rx="3" ry="5.5" fill="#e8881a" opacity="0.55"/></g>
</g>
<polygon points="311.84,439.09 335.01,429.72 337.54,435.98 343.90,423.70 330.79,419.29 333.32,425.55 310.16,434.91" fill="#3767a8" stroke="#24528c" stroke-width="0.8" stroke-linejoin="miter"/>
<polygon points="314.30,460.14 339.32,468.36 337.22,474.77 350.00,469.50 342.83,457.67 340.73,464.08 315.70,455.86" fill="#3767a8" stroke="#24528c" stroke-width="0.8" stroke-linejoin="miter"/>
<g transform="translate(478.50,338.00) rotate(-18) scale(0.78)">
<path d="M-5 -14.5 C2 -15.5 10 -15.5 13.5 -11 C16.5 -7 19 -1 18 5 C17 11 11 15 4 15 L-8 15 C-13 15 -17 12 -18 6 C-19 0 -16 -6 -13 -9.5 C-11 -12 -8 -14 -5 -14.5 Z" fill="#f2e040" stroke="#d2bd20" stroke-width="0.9"/>
<ellipse cx="0" cy="1" rx="13" ry="10" fill="#f8ef80" opacity="0.6"/>
<g transform="translate(-1,0) rotate(40)"><ellipse cx="0" cy="0" rx="7.3" ry="11.5" fill="#f09c1e"/>
<path d="M-3.5 7 C-5.5 0 -3.5 -7 0 -9.5 M1.5 6.5 C0.5 0 2 -6 4 -8.5" stroke="#fbd878" stroke-width="1.3" fill="none" stroke-linecap="round"/>
<ellipse cx="-1" cy="3" rx="3" ry="5.5" fill="#e8881a" opacity="0.55"/></g>
</g>
<g transform="translate(543.00,312.00) rotate(-18) scale(0.78)">
<path d="M-5 -14.5 C2 -15.5 10 -15.5 13.5 -11 C16.5 -7 19 -1 18 5 C17 11 11 15 4 15 L-8 15 C-13 15 -17 12 -18 6 C-19 0 -16 -6 -13 -9.5 C-11 -12 -8 -14 -5 -14.5 Z" fill="#f2e040" stroke="#d2bd20" stroke-width="0.9"/>
<ellipse cx="0" cy="1" rx="13" ry="10" fill="#f8ef80" opacity="0.6"/>
<g transform="translate(-1,0) rotate(40)"><ellipse cx="0" cy="0" rx="7.3" ry="11.5" fill="#f09c1e"/>
<path d="M-3.5 7 C-5.5 0 -3.5 -7 0 -9.5 M1.5 6.5 C0.5 0 2 -6 4 -8.5" stroke="#fbd878" stroke-width="1.3" fill="none" stroke-linecap="round"/>
<ellipse cx="-1" cy="3" rx="3" ry="5.5" fill="#e8881a" opacity="0.55"/></g>
</g>
<g transform="translate(538.50,350.00) rotate(-18) scale(0.78)">
<path d="M-5 -14.5 C2 -15.5 10 -15.5 13.5 -11 C16.5 -7 19 -1 18 5 C17 11 11 15 4 15 L-8 15 C-13 15 -17 12 -18 6 C-19 0 -16 -6 -13 -9.5 C-11 -12 -8 -14 -5 -14.5 Z" fill="#f2e040" stroke="#d2bd20" stroke-width="0.9"/>
<ellipse cx="0" cy="1" rx="13" ry="10" fill="#f8ef80" opacity="0.6"/>
<g transform="translate(-1,0) rotate(40)"><ellipse cx="0" cy="0" rx="7.3" ry="11.5" fill="#f09c1e"/>
<path d="M-3.5 7 C-5.5 0 -3.5 -7 0 -9.5 M1.5 6.5 C0.5 0 2 -6 4 -8.5" stroke="#fbd878" stroke-width="1.3" fill="none" stroke-linecap="round"/>
<ellipse cx="-1" cy="3" rx="3" ry="5.5" fill="#e8881a" opacity="0.55"/></g>
</g>
<polygon points="499.01,331.79 518.27,323.31 520.28,327.89 525.50,317.40 514.24,314.16 516.26,318.74 496.99,327.21" fill="#3767a8" stroke="#24528c" stroke-width="0.8" stroke-linejoin="miter"/>
<polygon points="495.89,339.74 515.12,349.25 512.91,353.73 524.30,351.00 519.56,340.29 517.34,344.77 498.11,335.26" fill="#3767a8" stroke="#24528c" stroke-width="0.8" stroke-linejoin="miter"/>
<ellipse cx="510" cy="320.7" rx="8.3" ry="11" fill="none" stroke="#c0161e" stroke-width="2.4" transform="rotate(-6 510 320.7)"/>
<line x1="504.5" y1="312" x2="517" y2="330" stroke="#c0161e" stroke-width="2.4"/>
<ellipse cx="511.2" cy="344.7" rx="8.6" ry="10.8" fill="none" stroke="#c0161e" stroke-width="2.4" transform="rotate(-6 511.2 344.7)"/>
<line x1="505" y1="336" x2="518" y2="353.5" stroke="#c0161e" stroke-width="2.4"/>
<polygon points="593.50,421.00 616.25,421.00 616.25,428.50 625.25,418.00 616.25,407.50 616.25,415.00 593.50,415.00" fill="#3767a8" stroke="#24528c" stroke-width="0.8" stroke-linejoin="miter"/>
<g transform="translate(574.00,404.00) scale(1.0)">
<path d="M-4 -7 C-6 -12 -8 -16 -7 -20 C-6 -24 -9 -27 -10 -31 M-7 -20 C-4 -22 -2 -25 -1 -28 M-8 -14 C-12 -16 -14 -19 -17 -20 M2 -7 C3 -12 2 -16 5 -19 C8 -22 8 -26 10 -29 M5 -19 C9 -19 12 -21 14 -24 M7 -5 C11 -9 15 -11 17 -16 C18 -19 21 -21 23 -22 M15 -11 C18 -10 20 -12 22 -10 M-8 -2 C-14 -4 -18 -1 -24 -3 C-28 -4 -31 -2 -34 -3 M-18 -2 C-20 2 -23 5 -24 9 M-24 -3 C-27 -7 -29 -9 -31 -10 M8 2 C12 3 15 2 19 5 C21 7 23 6 25 8 M14 3 C17 0 19 -1 22 -2 M5 8 C8 12 11 14 10 19 C9 23 12 25 12 28 M10 17 C13 18 15 20 17 21 M-5 8 C-7 12 -10 13 -12 17" stroke="#efd468" stroke-width="1.4" fill="none" stroke-linecap="round" stroke-linejoin="round"/>
<path d="M-11 -1 L-6 -9 L-1 -8 L5 -11 L9 -4 L12 3 L7 8 L5 12 L-3 10 L-9 6 Z" fill="#f1b444" stroke="#f5cc55" stroke-width="1.6" stroke-linejoin="round"/>
<ellipse cx="0" cy="0" rx="6" ry="6.5" fill="#cf8784" opacity="0.75"/>
<ellipse cx="1" cy="1" rx="3" ry="3.5" fill="#b9707a" opacity="0.5"/>
<g transform="translate(-8,11) rotate(20)"><rect x="-2.4" y="0" width="4.8" height="21" rx="1.5" fill="#c6a6d4" opacity="0.9"/><path d="M-2.6 4.5H2.6M-2.6 9H2.6M-2.6 13.5H2.6" stroke="#dcc6e6" stroke-width="0.7"/></g>
</g>
<g transform="translate(649.00,408.75) scale(0.9)">
<path d="M-4 -7 C-6 -12 -8 -16 -7 -20 C-6 -24 -9 -27 -10 -31 M-7 -20 C-4 -22 -2 -25 -1 -28 M-8 -14 C-12 -16 -14 -19 -17 -20 M2 -7 C3 -12 2 -16 5 -19 C8 -22 8 -26 10 -29 M5 -19 C9 -19 12 -21 14 -24 M7 -5 C11 -9 15 -11 17 -16 C18 -19 21 -21 23 -22 M15 -11 C18 -10 20 -12 22 -10 M-8 -2 C-14 -4 -18 -1 -24 -3 C-28 -4 -31 -2 -34 -3 M-18 -2 C-20 2 -23 5 -24 9 M-24 -3 C-27 -7 -29 -9 -31 -10 M8 2 C12 3 15 2 19 5 C21 7 23 6 25 8 M14 3 C17 0 19 -1 22 -2 M5 8 C8 12 11 14 10 19 C9 23 12 25 12 28 M10 17 C13 18 15 20 17 21 M-5 8 C-7 12 -10 13 -12 17" stroke="#efd468" stroke-width="1.4" fill="none" stroke-linecap="round" stroke-linejoin="round"/>
<path d="M-11 -1 L-6 -9 L-1 -8 L5 -11 L9 -4 L12 3 L7 8 L5 12 L-3 10 L-9 6 Z" fill="#f1b444" stroke="#f5cc55" stroke-width="1.6" stroke-linejoin="round"/>
<ellipse cx="0" cy="0" rx="6" ry="6.5" fill="#cf8784" opacity="0.75"/>
<ellipse cx="1" cy="1" rx="3" ry="3.5" fill="#b9707a" opacity="0.5"/>
<g transform="translate(-8,11) rotate(20)"><rect x="-2.4" y="0" width="4.8" height="21" rx="1.5" fill="#c6a6d4" opacity="0.9"/><path d="M-2.6 4.5H2.6M-2.6 9H2.6M-2.6 13.5H2.6" stroke="#dcc6e6" stroke-width="0.7"/></g>
</g>
<path d="M379 404 C385 400 391 396 397 392 M381 409 C386 407 391 405 397 404 M368 412 C363 414 358 416 353 417 M369 415 C364 419 358 424 353 428" stroke="#a872bf" stroke-width="2" fill="none" stroke-linecap="round"/>
<path d="M397 392 L399 390 M397 404 L399 403.5 M353 417 L351 417 M353 428 L351 429" stroke="#d8a8dc" stroke-width="1.5" fill="none" stroke-linecap="round"/>
<path d="M376 400 L375 396 M381 415 L384 417 M369 403 L366 401 M371 416 L369 419 M383 406 L386 405" stroke="#9a62b2" stroke-width="1.3" fill="none" stroke-linecap="round"/>
<ellipse cx="374.1" cy="408.8" rx="9.5" ry="7" fill="#a466bd" transform="rotate(-35 374.1 408.8)"/>
<ellipse cx="375" cy="408" rx="5.5" ry="4" fill="#8e52a8" opacity="0.6" transform="rotate(-35 375 408)"/>
<path d="M374 402 C378 402 381 405 380 409" stroke="#d6a8e6" stroke-width="1" fill="none"/>
<path d="M381 458 C377 468 373 476 366 483 C361 488 357 492 354 496" stroke="#c99cbc" stroke-width="2.2" fill="none" stroke-linecap="round"/>
<path d="M354 496 L349 499 M354 496 L352 502 M349 499 L343 497 M349 499 L346 505 M352 502 L356 506 M343 497 L340 493" stroke="#eee2a8" stroke-width="1.1" opacity="0.8" fill="none"/>
<g transform="translate(390.00,448.00) scale(0.7)">
<path d="M-4 -7 C-6 -12 -8 -16 -7 -20 C-6 -24 -9 -27 -10 -31 M-7 -20 C-4 -22 -2 -25 -1 -28 M-8 -14 C-12 -16 -14 -19 -17 -20 M2 -7 C3 -12 2 -16 5 -19 C8 -22 8 -26 10 -29 M5 -19 C9 -19 12 -21 14 -24 M7 -5 C11 -9 15 -11 17 -16 C18 -19 21 -21 23 -22 M15 -11 C18 -10 20 -12 22 -10 M-8 -2 C-14 -4 -18 -1 -24 -3 C-28 -4 -31 -2 -34 -3 M-18 -2 C-20 2 -23 5 -24 9 M-24 -3 C-27 -7 -29 -9 -31 -10 M8 2 C12 3 15 2 19 5 C21 7 23 6 25 8 M14 3 C17 0 19 -1 22 -2 M5 8 C8 12 11 14 10 19 C9 23 12 25 12 28 M10 17 C13 18 15 20 17 21 M-5 8 C-7 12 -10 13 -12 17" stroke="#f3dc88" stroke-width="1.4" fill="none" stroke-linecap="round" stroke-linejoin="round"/>
<path d="M-11 -1 L-6 -9 L-1 -8 L5 -11 L9 -4 L12 3 L7 8 L5 12 L-3 10 L-9 6 Z" fill="#f2b04a" stroke="#f5cc55" stroke-width="1.6" stroke-linejoin="round"/>
<ellipse cx="0" cy="0" rx="6" ry="6.5" fill="#d08a78" opacity="0.75"/>
<ellipse cx="1" cy="1" rx="3" ry="3.5" fill="#b9707a" opacity="0.5"/>
</g></svg></body></html>
